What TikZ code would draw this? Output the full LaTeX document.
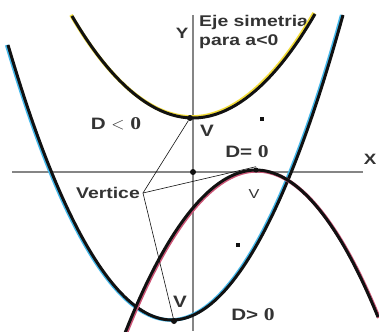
\documentclass[tikz,border=0pt]{standalone}
\usepackage{fontspec}
\setmainfont{Liberation Sans}[FakeStretch=1.25]
\newfontfamily\zerofont{Liberation Serif}[FakeStretch=1.2]
\usetikzlibrary{positioning}
\definecolor{ink}{HTML}{111111}
\definecolor{txt}{HTML}{333333}
\definecolor{axis}{HTML}{858585}
\definecolor{sun}{HTML}{f2dc3a}
\definecolor{sky}{HTML}{45b8ea}
\definecolor{rose}{HTML}{cc5577}
\newcommand{\zero}{{\zerofont\bfseries\fontsize{18}{18}\selectfont 0}}

\begin{document}
\begin{tikzpicture}[x=1pt,y=-1pt,
   ax/.style={axis,line width=1.3pt},
   cv/.style={ink,line width=3pt},
   halo/.style={line width=3.6pt},
   lead/.style={ink,line width=0.6pt},
   dot/.style={circle,fill=ink,inner sep=0pt,minimum size=6pt},
   sq/.style={rectangle,fill=ink,inner sep=0pt,minimum width=4pt,minimum height=3.4pt},
   lbl/.style={txt,inner sep=0pt,font=\bfseries\fontsize{16.5}{16.5}\selectfont},
   sml/.style={txt,inner sep=0pt,font=\bfseries\fontsize{15}{15}\selectfont}]
  \useasboundingbox[fill=white] (0,0) rectangle (379,331);
  % axes
  \draw[ax] (12,172) -- (363,172);
  \draw[ax] (193,15) -- (193,331);
  \node[sml] (ylab) at (182,33) {Y};
  \node[sml] (xlab) at (370,159) {X};
  \node[sml,anchor=north west,align=left,font=\bfseries\fontsize{15.5}{19}\selectfont] (eje) at (199,15) {Eje simetria\\para a<0};
  % parabolas
  \draw[sun,halo,shift={(-1,-1)}] (72,16) parabola bend (193,118) (315,14);
  \draw[cv] (72,16) parabola bend (193,118) (315,14);
  \draw[sky,halo,shift={(-1.3,0)}] (8,45) parabola bend (172,320) (343,15);
  \draw[cv] (8,45) parabola bend (172,320) (343,15);
  \draw[rose,halo,shift={(1,0.8)}] (125,333) parabola bend (256,170) (378,317);
  \draw[cv] (125,333) parabola bend (256,170) (378,317);
  % points
  \node[dot] (orig) at (193,172) {};
  \node[dot] (vtop) at (190,118) {};
  \node[dot,minimum size=5pt] (vmid) at (256,170) {};
  \node[dot] (vbot) at (174,321) {};
  \node[sq] (sqa) at (262,119) {};
  \node[sq] (sqb) at (238,245) {};
  % labels
  \node[lbl] (dneg) at (116,124) {D $<$ \zero};
  \node[lbl] (vt) at (207,131) {V};
  \node[lbl] (dnul) at (247,152) {D= \zero};
  \node[lbl,font=\bfseries\fontsize{15.5}{15.5}\selectfont,inner xsep=3pt] (vert) at (108,193) {Vertice};
  \node[txt,inner sep=0pt,font=\fontsize{13}{13}\selectfont] (vm) at (254,194) {V};
  \node[lbl] (vb) at (180,302) {V};
  \node[lbl] (dpos) at (253,315) {D> \zero};
  % leaders
  \draw[lead] (vert.east) -- (vtop);
  \draw[lead] (vert.east) -- ([yshift=6pt]vmid.south);
  \draw[lead] (vert.east) -- (vbot);
\end{tikzpicture}
\end{document}
